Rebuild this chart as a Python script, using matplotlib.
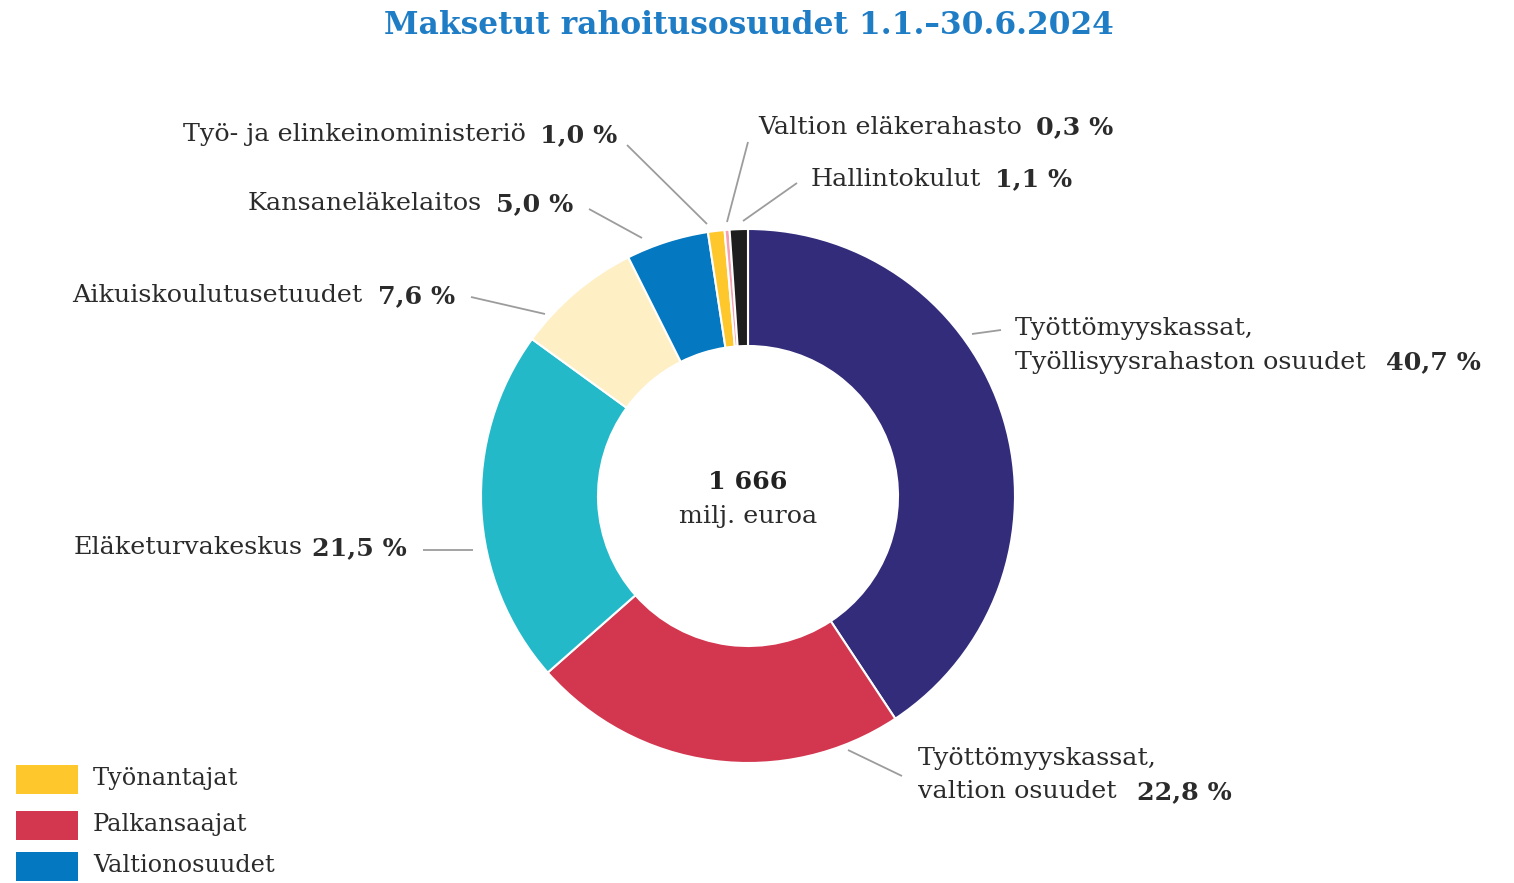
import matplotlib
matplotlib.use("Agg")
import matplotlib.pyplot as plt
from matplotlib.patches import Rectangle

# ---- data ----
labels = ["Työttömyyskassat,\nTyöllisyysrahaston osuudet", "Työttömyyskassat,\nvaltion osuudet",
          "Eläketurvakeskus", "Aikuiskoulutusetuudet", "Kansaneläkelaitos",
          "Työ- ja elinkeinoministeriö", "Valtion eläkerahasto", "Hallintokulut"]
values = [40.7, 22.8, 21.5, 7.6, 5.0, 1.0, 0.3, 1.1]
pct_text = ["40,7 %", "22,8 %", "21,5 %", "7,6 %", "5,0 %", "1,0 %", "0,3 %", "1,1 %"]
colors = ["#322C7B", "#D3364F", "#23B9C8", "#FEEFC5", "#0479C1", "#FEC82C", "#F5A0B0", "#1E1E1E"]
legend_labels = ["Työnantajat", "Palkansaajat", "Valtionosuudet"]
legend_colors = ["#FEC82C", "#D3364F", "#0479C1"]
title = "Maksetut rahoitusosuudet 1.1.–30.6.2024"
total_text = ["1 666", "milj. euroa"]

W, H = 1514, 883
FONT = "DejaVu Serif"
TXT = "#2B2B2B"
LINE = "#9C9C9C"
FS = 18.3

fig = plt.figure(figsize=(W / 100, H / 100), dpi=100)
ax = fig.add_axes([0, 0, 1, 1])

def py(y):
    return H - y

cx, cy, R, r_in = 748, 496, 267, 150
ax.pie(values, colors=colors, startangle=90, counterclock=False,
       radius=R, center=(cx, py(cy)),
       wedgeprops=dict(width=R - r_in, edgecolor="white", linewidth=1.5))
ax.set_xlim(0, W)
ax.set_ylim(0, H)
ax.set_aspect("equal")
ax.axis("off")

fig.canvas.draw()
renderer = fig.canvas.get_renderer()

def width_px(t):
    return t.get_window_extent(renderer).width  # axes map 1:1 to pixels

def label_left_start(x, y, name, pct, gap=10):
    t = ax.text(x, py(y), name, fontsize=FS, family=FONT, color=TXT, ha="left", va="center")
    w = width_px(t)
    ax.text(x + w + gap, py(y), pct, fontsize=FS, family=FONT, color=TXT,
            fontweight="bold", ha="left", va="center")

def label_right_end(x, y, name, pct, gap=10):
    t = ax.text(x, py(y), pct, fontsize=FS, family=FONT, color=TXT,
                fontweight="bold", ha="right", va="center")
    w = width_px(t)
    ax.text(x - w - gap, py(y), name, fontsize=FS, family=FONT, color=TXT, ha="right", va="center")

def leader(x0, y0, x1, y1):
    ax.plot([x0, x1], [py(y0), py(y1)], color=LINE, lw=1.3, solid_capstyle="butt")

# Right side labels
ax.text(1015, py(328), labels[0].split("\n")[0], fontsize=FS, family=FONT, color=TXT, ha="left", va="center")
label_left_start(1015, 362, labels[0].split("\n")[1], pct_text[0], gap=20)
leader(972, 334, 1001, 330)

ax.text(918, py(759), labels[1].split("\n")[0], fontsize=FS, family=FONT, color=TXT, ha="left", va="center")
label_left_start(918, 792, labels[1].split("\n")[1], pct_text[1], gap=20)
leader(848, 750, 902, 776)

label_left_start(758, 127, labels[6], pct_text[6], gap=14)
leader(748, 142, 727, 222)

label_left_start(811, 179, labels[7], pct_text[7], gap=14)
leader(797, 183, 743, 221)

# Left side labels
label_right_end(407, 548, labels[2], pct_text[2], gap=10)
leader(423, 550, 473, 550)

label_right_end(455, 296, labels[3], pct_text[3], gap=16)
leader(471, 297, 545, 314)

label_right_end(573, 204, labels[4], pct_text[4], gap=14)
leader(589, 209, 642, 238)

label_right_end(617, 135, labels[5], pct_text[5], gap=14)
leader(627, 145, 707, 224)

# Center text
ax.text(cx, py(482), total_text[0], fontsize=FS, family=FONT, color="#222222",
        fontweight="bold", ha="center", va="center")
ax.text(cx, py(516), total_text[1], fontsize=FS, family=FONT, color=TXT, ha="center", va="center")

# Title
ax.text(749, py(25), title, fontsize=22.5, family=FONT, color="#1F7DC6",
        fontweight="bold", ha="center", va="center")

# Legend
leg_y = [779, 825, 866]
for lab, col, yy in zip(legend_labels, legend_colors, leg_y):
    ax.add_patch(Rectangle((16, py(yy) - 14.5), 62, 29, facecolor=col, edgecolor="none"))
    ax.text(93, py(yy), lab, fontsize=17.3, family=FONT, color=TXT, ha="left", va="center")

fig.savefig("out.png", dpi=100)
